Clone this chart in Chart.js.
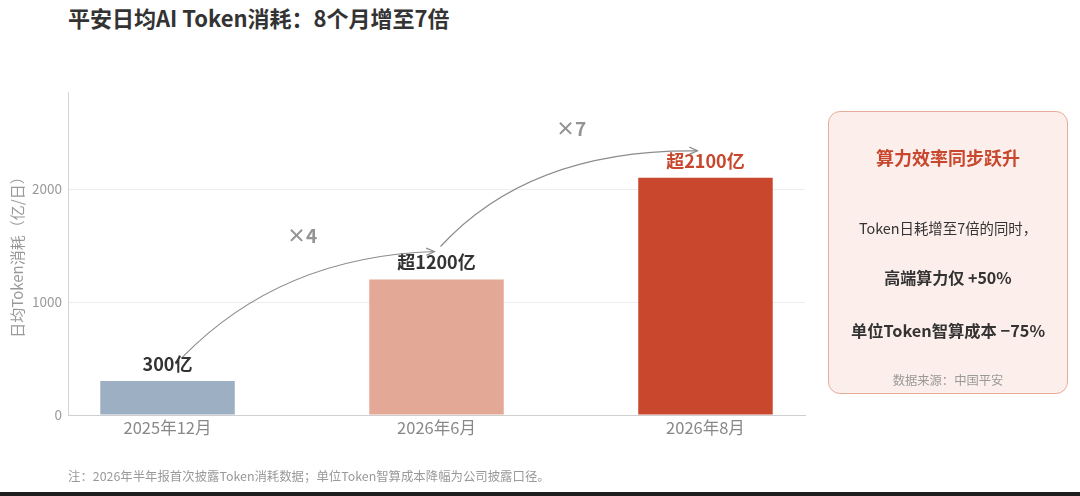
<!DOCTYPE html>
<html>
<head>
<meta charset="utf-8">
<script src="https://cdn.jsdelivr.net/npm/chart.js@4"></script>
<style>
  html, body { margin: 0; padding: 0; background: #fff; }
  body { width: 1080px; height: 496px; position: relative; overflow: hidden;
         font-family: "Noto Sans CJK SC", "Noto Sans", sans-serif; }
  #title { position: absolute; left: 68px; top: 1px; font-size: 22px; font-weight: bold; color: #333; }
  #chartWrap { position: absolute; left: 0; top: 0; width: 1080px; height: 496px; }
  #note { position: absolute; left: 68px; top: 467px; font-size: 12.4px; color: #999; }
  #sideBox { position: absolute; left: 828px; top: 111px; width: 238px; height: 281px;
             border: 1.5px solid #e8ad98; border-radius: 12px; background: #fcefeb;
             text-align: center; color: #333; }
  #sideBox .hd { position: absolute; left: 0; right: 0; top: 32px; font-size: 18px; font-weight: bold; color: #c8472d; }
  #sideBox .l1 { position: absolute; left: 0; right: 0; top: 105px; font-size: 14.4px; }
  #sideBox .l2 { position: absolute; left: 0; right: 0; top: 153px; font-size: 16px; font-weight: bold; }
  #sideBox .l3 { position: absolute; left: 0; right: 0; top: 206px; font-size: 16.3px; font-weight: bold; }
  #sideBox .src { position: absolute; left: 0; right: 0; top: 259px; font-size: 12.3px; color: #999; }
  #bottomLine { position: absolute; left: 0; right: 0; bottom: 0; height: 4px; background: #1e1e1e; }
</style>
</head>
<body>
<div id="title">平安日均AI Token消耗：8个月增至7倍</div>
<div id="chartWrap"><canvas id="tokenChart" width="1080" height="496"></canvas></div>
<div id="sideBox">
  <div class="hd">算力效率同步跃升</div>
  <div class="l1">Token日耗增至7倍的同时，</div>
  <div class="l2">高端算力仅 +50%</div>
  <div class="l3">单位Token智算成本 −75%</div>
  <div class="src">数据来源：中国平安</div>
</div>
<div id="note">注：2026年半年报首次披露Token消耗数据；单位Token智算成本降幅为公司披露口径。</div>
<div id="bottomLine"></div>
<script>
// data
const categories = ['2025年12月', '2026年6月', '2026年8月'];
const tokenValues = [300, 1200, 2100];
const valueLabels = ['300亿', '超1200亿', '超2100亿'];
const barColors = ['#9cafc3', '#e4a896', '#c8472d'];
const labelColors = ['#333333', '#333333', '#c8472d'];
const growthLabels = ['×4', '×7'];
const yTicks = [0, 1000, 2000];

const FONT = '"Noto Sans CJK SC", "Noto Sans", sans-serif';
Chart.defaults.font.family = FONT;

// arrow geometry relative to the bar tops: [startDx, startDy, endDx, endDy, ctrlFrac, ctrlDy]
const arrowShape = [
    [15, -24, -2, -28, 0.39, 5],
    [4, -33, -8, -27, 0.35, -2]
];

// value labels above bars, plus the curved growth arrows between them
const annotatePlugin = {
    id: 'barAnnotations',
    afterDatasetsDraw(chart) {
        const ctx = chart.ctx;
        const xs = chart.scales.x;
        const ys = chart.scales.y;
        ctx.save();

        // value labels
        ctx.textAlign = 'center';
        ctx.textBaseline = 'middle';
        ctx.font = 'bold 18px ' + FONT;
        tokenValues.forEach((v, i) => {
            ctx.fillStyle = labelColors[i];
            ctx.fillText(valueLabels[i], xs.getPixelForValue(i), ys.getPixelForValue(v) - 17);
        });

        // arrows from one bar label to the next
        ctx.strokeStyle = '#8c8c8c';
        ctx.lineWidth = 1.2;
        growthLabels.forEach((txt, i) => {
            const s = arrowShape[i];
            const x0 = xs.getPixelForValue(i);
            const x1 = xs.getPixelForValue(i + 1);
            const y0 = ys.getPixelForValue(tokenValues[i]);
            const y1 = ys.getPixelForValue(tokenValues[i + 1]);
            const sx = x0 + s[0], sy = y0 + s[1];
            const ex = x1 + s[2], ey = y1 + s[3];
            const cx = sx + (ex - sx) * s[4], cy = ey + s[5];

            ctx.beginPath();
            ctx.moveTo(sx, sy);
            ctx.quadraticCurveTo(cx, cy, ex, ey);
            ctx.stroke();

            // open arrow head
            const ang = Math.atan2(ey - cy, ex - cx);
            const len = 9, spread = 0.42;
            ctx.beginPath();
            ctx.moveTo(ex - len * Math.cos(ang - spread), ey - len * Math.sin(ang - spread));
            ctx.lineTo(ex, ey);
            ctx.lineTo(ex - len * Math.cos(ang + spread), ey - len * Math.sin(ang + spread));
            ctx.stroke();

            // multiplier label above the curve middle
            const midY = 0.25 * sy + 0.5 * cy + 0.25 * ey;
            ctx.fillStyle = '#939393';
            ctx.font = 'bold 19px ' + FONT;
            ctx.fillText(txt, (x0 + x1) / 2, midY - 45);
        });
        ctx.restore();
    }
};

new Chart(document.getElementById('tokenChart'), {
    type: 'bar',
    data: {
        datasets: [{
            data: tokenValues.map((v, i) => ({ x: i, y: v })),
            backgroundColor: barColors,
            borderWidth: 0,
            barPercentage: 0.5,
            categoryPercentage: 1
        }]
    },
    options: {
        responsive: false,
        animation: false,
        layout: { padding: { top: 92, right: 275, bottom: 51, left: 0 } },
        plugins: {
            legend: { display: false },
            tooltip: { enabled: false }
        },
        scales: {
            x: {
                type: 'linear',
                offset: false,
                min: -0.37,
                max: 2.37,
                afterBuildTicks: (scale) => { scale.ticks = categories.map((c, i) => ({ value: i })); },
                afterFit: (scale) => { scale.height = 30; },
                grid: { display: false, drawTicks: false, offset: false },
                border: { display: true, color: '#cfcfcf', width: 1 },
                ticks: {
                    padding: 3,
                    color: '#888',
                    font: { size: 16.5 },
                    callback: (v) => categories[v]
                }
            },
            y: {
                min: 0,
                max: 2860,
                afterBuildTicks: (scale) => { scale.ticks = yTicks.map(v => ({ value: v })); },
                afterFit: (scale) => { scale.width = 68; },
                grid: { color: '#ededed', drawTicks: false },
                border: { display: true, color: '#d4d4d4', width: 1 },
                ticks: { padding: 6, color: '#999', font: { size: 13.5 }, callback: (v) => String(v) },
                title: {
                    display: true,
                    text: '日均Token消耗（亿/日）',
                    color: '#999',
                    font: { size: 15 },
                    padding: { top: 8, bottom: 0 }
                }
            }
        }
    },
    plugins: [annotatePlugin]
});
</script>
</body>
</html>
